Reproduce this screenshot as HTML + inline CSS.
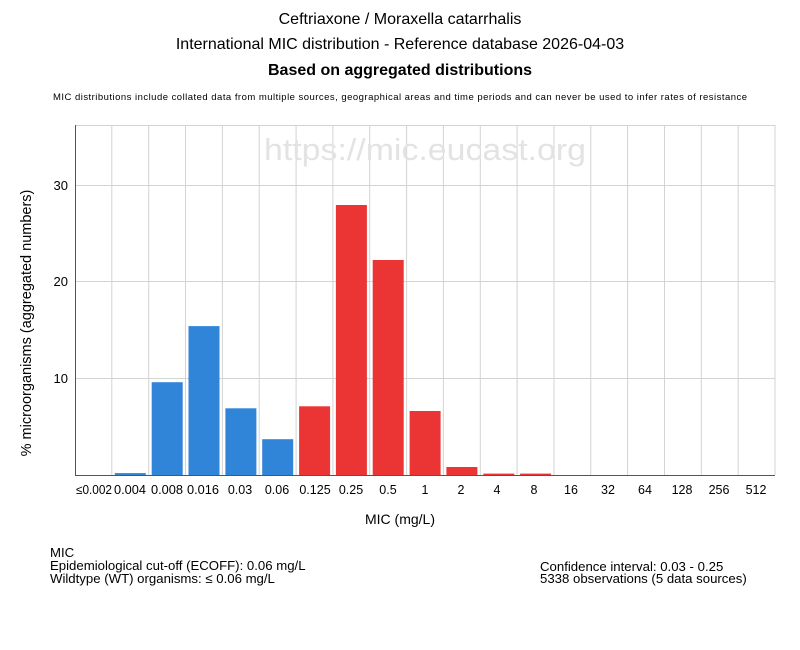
<!DOCTYPE html>
<html><head><meta charset="utf-8"><style>
body{margin:0;background:#fff;}
svg{display:block;font-family:"Liberation Sans",sans-serif;}
</style></head><body>
<svg width="800" height="650" xmlns="http://www.w3.org/2000/svg">
<rect width="800" height="650" fill="#fff"/>
<text x="400" y="24" text-anchor="middle" font-size="16" fill="#000">Ceftriaxone / Moraxella catarrhalis</text>
<text x="400" y="49" text-anchor="middle" font-size="16" fill="#000">International MIC distribution - Reference database 2026-04-03</text>
<text x="400" y="75" text-anchor="middle" font-size="16" font-weight="bold" fill="#000">Based on aggregated distributions</text>
<text x="400" y="100" text-anchor="middle" font-size="9.5" fill="#000" textLength="694" lengthAdjust="spacing">MIC distributions include collated data from multiple sources, geographical areas and time periods and can never be used to infer rates of resistance</text>
<g stroke="#d3d3d3" stroke-width="1">
<line x1="75" y1="125.5" x2="775" y2="125.5"/>
<line x1="75" y1="185.5" x2="775" y2="185.5"/>
<line x1="75" y1="281.5" x2="775" y2="281.5"/>
<line x1="75" y1="378.5" x2="775" y2="378.5"/>
<line x1="111.8" y1="125" x2="111.8" y2="475"/><line x1="148.7" y1="125" x2="148.7" y2="475"/><line x1="185.5" y1="125" x2="185.5" y2="475"/><line x1="222.4" y1="125" x2="222.4" y2="475"/><line x1="259.2" y1="125" x2="259.2" y2="475"/><line x1="296.1" y1="125" x2="296.1" y2="475"/><line x1="332.9" y1="125" x2="332.9" y2="475"/><line x1="369.7" y1="125" x2="369.7" y2="475"/><line x1="406.6" y1="125" x2="406.6" y2="475"/><line x1="443.4" y1="125" x2="443.4" y2="475"/><line x1="480.3" y1="125" x2="480.3" y2="475"/><line x1="517.1" y1="125" x2="517.1" y2="475"/><line x1="554" y1="125" x2="554" y2="475"/><line x1="590.8" y1="125" x2="590.8" y2="475"/><line x1="627.6" y1="125" x2="627.6" y2="475"/><line x1="664.5" y1="125" x2="664.5" y2="475"/><line x1="701.3" y1="125" x2="701.3" y2="475"/><line x1="738.2" y1="125" x2="738.2" y2="475"/><line x1="775" y1="125" x2="775" y2="475"/>
</g>
<text x="425" y="160" text-anchor="middle" font-size="31" fill="#e3e3e3" textLength="322" lengthAdjust="spacingAndGlyphs">https://mic.eucast.org</text>
<g fill="#3085d8">
<rect x="114.8" y="473.1" width="31" height="1.9"/>
<rect x="151.7" y="382.2" width="31" height="92.8"/>
<rect x="188.5" y="326.1" width="31" height="148.9"/>
<rect x="225.4" y="408.3" width="31" height="66.7"/>
<rect x="262.2" y="439.2" width="31" height="35.8"/>
</g>
<g fill="#eb3535">
<rect x="299.1" y="406.3" width="31" height="68.7"/>
<rect x="335.9" y="205" width="31" height="270"/>
<rect x="372.7" y="260" width="31" height="215"/>
<rect x="409.6" y="411" width="31" height="64"/>
<rect x="446.4" y="467" width="31" height="8"/>
<rect x="483.3" y="473.6" width="31" height="1.4"/>
<rect x="520.1" y="473.6" width="31" height="1.4"/>
</g>
<g stroke="#555" stroke-width="1">
<line x1="75.5" y1="125" x2="75.5" y2="475"/>
<line x1="75" y1="475.5" x2="775" y2="475.5"/>
</g>
<g font-size="13" text-anchor="end" fill="#000">
<text x="68" y="190">30</text><text x="68" y="286">20</text><text x="68" y="383">10</text>
</g>
<g font-size="12.5" text-anchor="middle" fill="#000">
<text x="94" y="494" textLength="36" lengthAdjust="spacingAndGlyphs">≤0.002</text><text x="130" y="494" textLength="32" lengthAdjust="spacingAndGlyphs">0.004</text><text x="167" y="494" textLength="32" lengthAdjust="spacingAndGlyphs">0.008</text><text x="203" y="494" textLength="32" lengthAdjust="spacingAndGlyphs">0.016</text><text x="240" y="494">0.03</text><text x="277" y="494">0.06</text><text x="315" y="494">0.125</text><text x="351" y="494">0.25</text><text x="388" y="494">0.5</text><text x="425" y="494">1</text><text x="461" y="494">2</text><text x="497" y="494">4</text><text x="534" y="494">8</text><text x="571" y="494">16</text><text x="608" y="494">32</text><text x="645" y="494">64</text><text x="682" y="494">128</text><text x="719" y="494">256</text><text x="756" y="494">512</text>
</g>
<text x="400" y="524" text-anchor="middle" font-size="14" fill="#000">MIC (mg/L)</text>
<text transform="translate(31,323) rotate(-90)" text-anchor="middle" font-size="14.5" fill="#000">% microorganisms (aggregated numbers)</text>
<g font-size="13.2" fill="#000">
<text x="50" y="557">MIC</text>
<text x="50" y="570">Epidemiological cut-off (ECOFF): 0.06 mg/L</text>
<text x="50" y="583">Wildtype (WT) organisms: ≤ 0.06 mg/L</text>
<text x="540" y="571">Confidence interval: 0.03 - 0.25</text>
<text x="540" y="583">5338 observations (5 data sources)</text>
</g>
</svg>
</body></html>
